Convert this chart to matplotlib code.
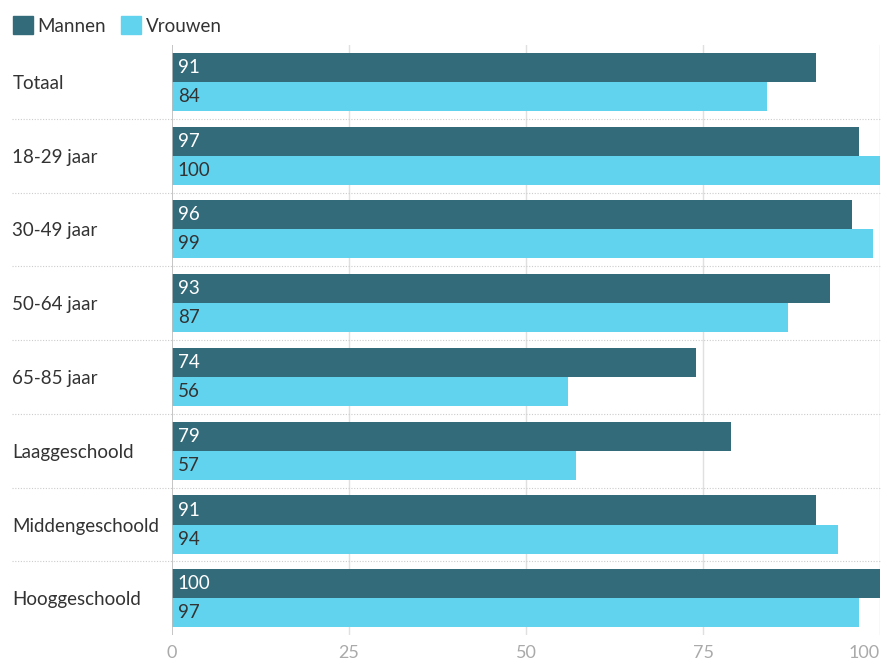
import numpy as np
import matplotlib.pyplot as plt
from matplotlib.patches import Patch

categories = ["Totaal", "18-29 jaar", "30-49 jaar", "50-64 jaar", "65-85 jaar",
              "Laaggeschoold", "Middengeschoold", "Hooggeschoold"]
mannen = [91, 97, 96, 93, 74, 79, 91, 100]
vrouwen = [84, 100, 99, 87, 56, 57, 94, 97]
ticks = [0, 25, 50, 75, 100]

dark = "#346b7a"
light = "#62d3ee"
plt.rcParams["font.family"] = ["Lato", "DejaVu Sans"]

fig = plt.figure(figsize=(8.83, 6.61), dpi=100)
ax = fig.add_axes([0.1948, 0.039, 0.8018, 0.893])

y = np.arange(len(categories))
h = 0.394
ax.barh(y - h / 2, mannen, height=h, color=dark, zorder=3)
ax.barh(y + h / 2, vrouwen, height=h, color=light, zorder=3)

for i in range(len(categories)):
    ax.text(0.8, y[i] - h / 2, str(mannen[i]), color="white", fontsize=13.5,
            va="center", ha="left", zorder=4)
    ax.text(0.8, y[i] + h / 2, str(vrouwen[i]), color="#333333", fontsize=13.5,
            va="center", ha="left", zorder=4)

ax.set_xlim(0, 100)
ax.set_ylim(len(categories) - 0.5, -0.5)
ax.set_xticks(ticks)
ax.set_xticklabels([str(t) for t in ticks], color="#aaaaaa", fontsize=13)
ax.get_xticklabels()[-1].set_horizontalalignment("right")
ax.set_yticks(y)
ax.set_yticklabels(categories, fontsize=13.5, color="#333333")
for lbl in ax.get_yticklabels():
    lbl.set_horizontalalignment("left")
ax.tick_params(axis="y", length=0, pad=115)
ax.tick_params(axis="x", length=0, pad=7)

for t in ticks[1:]:
    ax.axvline(t, color="#e0e0e0", lw=1, zorder=1)
ax.axvline(0, color="#bbbbbb", lw=1.2, zorder=5)
for k in range(len(categories) - 1):
    ax.axhline(k + 0.5, xmin=-0.226, xmax=1, color="#cccccc", lw=0.8,
               ls=(0, (1, 1.5)), clip_on=False, zorder=1)

for s in ax.spines.values():
    s.set_visible(False)

handles = [Patch(color=dark, label="Mannen"), Patch(color=light, label="Vrouwen")]
fig.legend(handles=handles, loc="upper left", bbox_to_anchor=(0.0, 0.995), ncol=2,
           frameon=False, fontsize=13.5, handlelength=1.05, handleheight=1.05,
           handletextpad=0.25, columnspacing=0.8, labelcolor="#333333",
           borderaxespad=0.3)

plt.savefig("out.png", dpi=100)
